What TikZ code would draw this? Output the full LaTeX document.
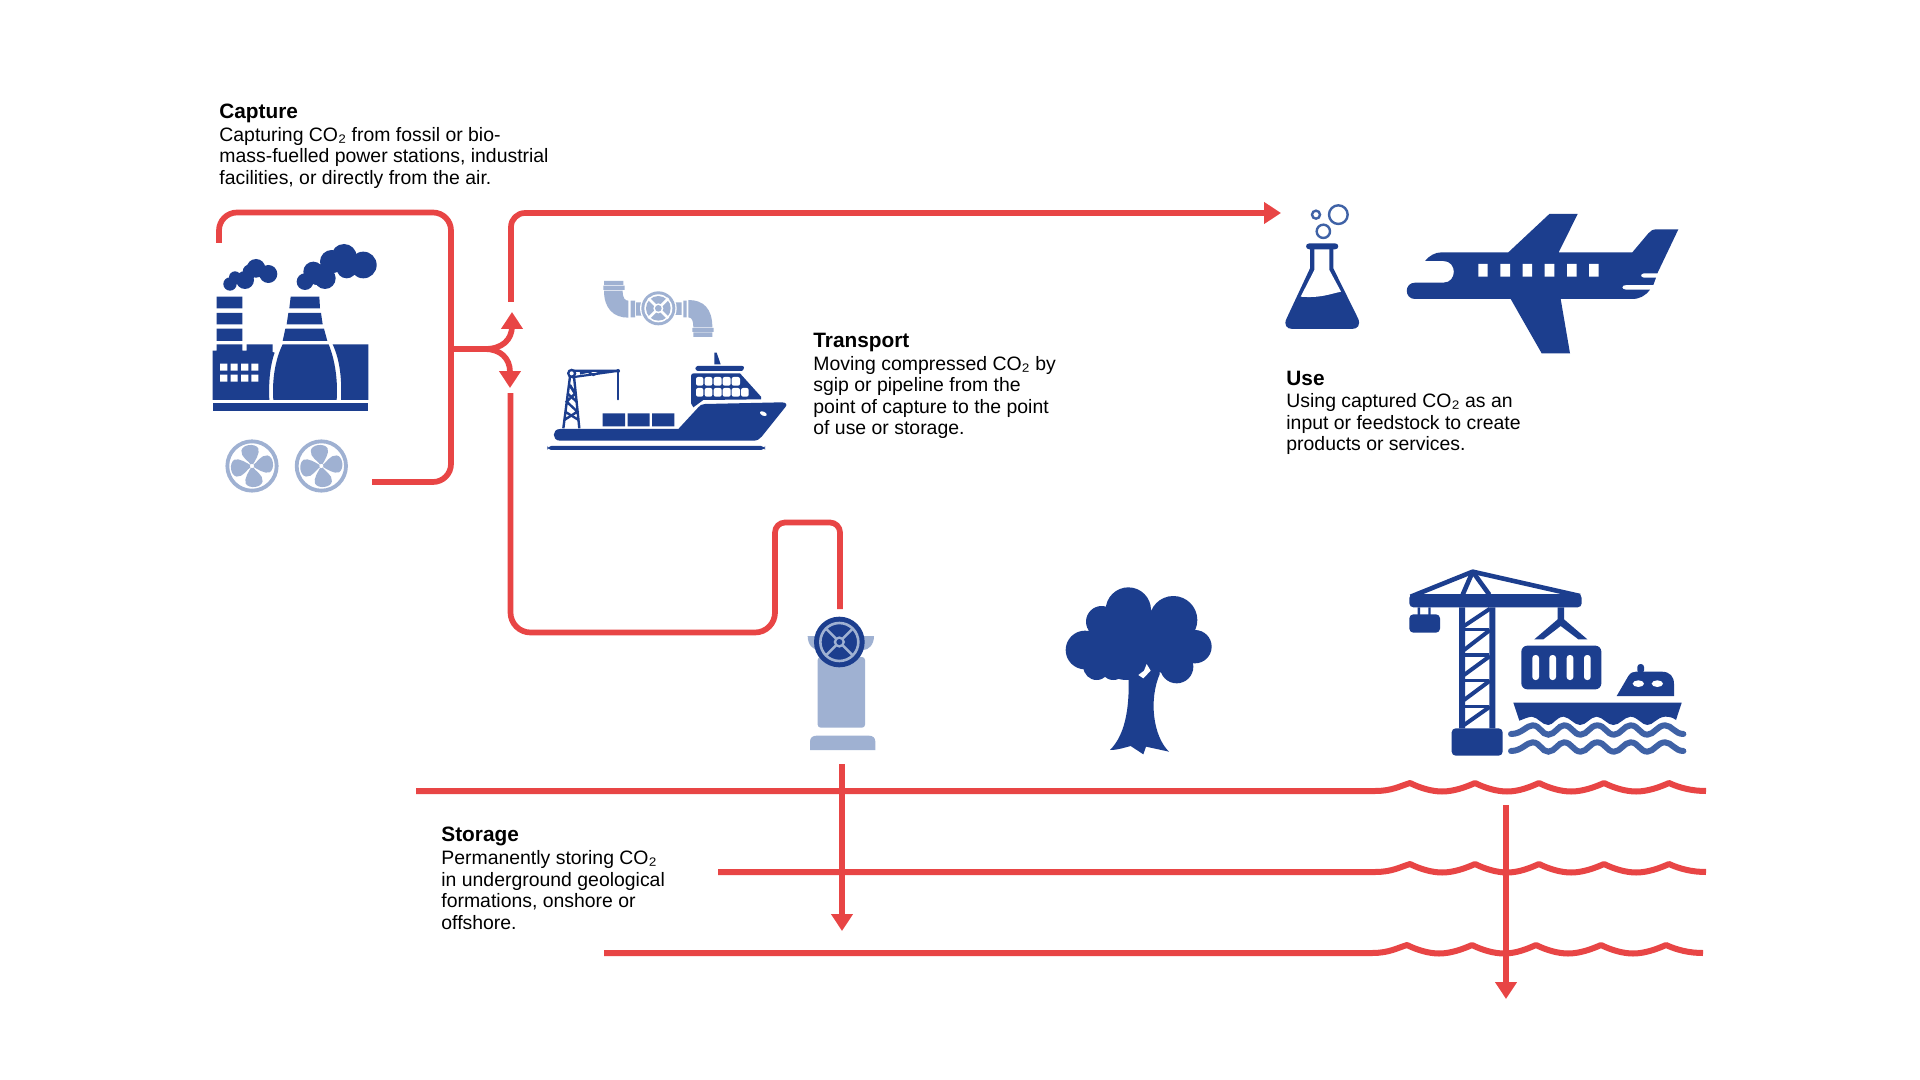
\documentclass[tikz,border=0pt]{standalone}
\usepackage{fontspec}
\setmainfont{Liberation Sans}
\usetikzlibrary{arrows.meta}
\definecolor{cred}{HTML}{E84545}
\definecolor{cdark}{HTML}{1C3E8E}
\definecolor{clight}{HTML}{9FB1D2}
\definecolor{cmid}{HTML}{3F62A6}
\newcommand{\cotwo}{CO{\fontsize{10.5}{10.75}\selectfont ₂}}
\newcommand{\wavy}[3]{\draw[flowline,line width=3pt] (#1) -- (1375+#3,#2) .. controls (1392+#3,#2) and (1400+#3,#2-5) .. (1410+#3,#2-8)
 .. controls (1420+#3,#2-3) and (1432+#3,#2+.5) .. (1442+#3,#2+.5) .. controls (1454+#3,#2+.5) and (1466+#3,#2-4) .. (1475+#3,#2-8)
 .. controls (1485+#3,#2-3) and (1497+#3,#2+.5) .. (1507+#3,#2+.5) .. controls (1519+#3,#2+.5) and (1530+#3,#2-4) .. (1539+#3,#2-8)
 .. controls (1549+#3,#2-3) and (1561+#3,#2+.5) .. (1571+#3,#2+.5) .. controls (1583+#3,#2+.5) and (1595+#3,#2-4) .. (1604+#3,#2-8)
 .. controls (1614+#3,#2-3) and (1626+#3,#2+.5) .. (1636+#3,#2+.5) .. controls (1648+#3,#2+.5) and (1660+#3,#2-4) .. (1669+#3,#2-8)
 .. controls (1680+#3,#2-3) and (1692+#3,#2) .. (1706+#3,#2);}
\newcommand{\fanblades}{\foreach \a in {8,98,188,278}{\fill[clight,rotate=\a] (0,0) .. controls (-8,-18) and (-30,-30) .. (-25,-50) .. controls (-20,-68) and (18,-68) .. (26,-50) .. controls (30,-35) and (12,-15) .. (0,0) -- cycle;}}
\tikzset{
 flowline/.style={draw=cred,line width=2.85pt,line join=round},
 flowarrow/.style={flowline,-{Triangle[width=10.5pt,length=8.5pt]}},
 desc/.style={anchor=north west,inner sep=0pt,align=left,font=\fontsize{9.71}{10.75}\selectfont,text=black},
 zm/.style={shift={#1},scale=1/3},
 dk/.style={fill=cdark,draw=none},
 lt/.style={fill=clight,draw=none},
 wh/.style={fill=white,draw=none},
}
\begin{document}
\begin{tikzpicture}[x=0.5pt,y=-0.5pt]
\useasboundingbox (0,0) rectangle (1920,1080);
\fill[white] (0,0) rectangle (1920,1080);
% connector coordinates
\coordinate (capS) at (219,243);
\coordinate (capC) at (451,349);
\coordinate (capE) at (372,482);
\coordinate (upS) at (511,302);
\coordinate (useT) at (1281,213);
\coordinate (loS) at (510.5,393);
\coordinate (valT) at (840,609);
\coordinate (sT) at (842,764);
\coordinate (sH) at (842,931);
\coordinate (mT) at (1506,805);
\coordinate (mH) at (1506,999);
\coordinate (upT) at (512,312);
\coordinate (dnT) at (510,388);
\coordinate (g1) at (416,791);
\coordinate (g2) at (718,872);
\coordinate (g3) at (604,953);

\draw[flowline,rounded corners=9pt] (capS) |- (451,212.5) -- (451,482) -- (capE);
\draw[flowline] (capC) -- (487,349);
\draw[flowarrow] (485,349) .. controls (502,349) and (512,340) .. (512,326) -- (upT);
\draw[flowarrow] (485,349) .. controls (500,349) and (510,358) .. (510,372) -- (dnT);
\draw[flowarrow,rounded corners=7pt] (upS) |- (useT);
\draw[flowline,rounded corners=10pt] (loS) |- (775,632.5) -- (775,570);
\draw[flowline,rounded corners=5pt] (775,570) -- (775,522.5) -- (840,522.5) -- (valT);
\draw[flowarrow] (sT) -- (sH);
\wavy{g1}{791}{0}
\wavy{g2}{872}{0}
\wavy{g3}{953}{-3}
\draw[flowarrow] (mT) -- (mH);

% factory
\begin{scope}[zm={(200,200)}]
\fill[dk] (90,252) circle (20) (105,232) circle (18) (135,240) circle (27) (168,205) circle (28) (205,222) circle (27) (150,215) circle (22);
\fill[dk] (315,245) circle (25) (340,215) circle (30) (375,235) circle (32) (395,185) circle (35) (432,170) circle (38) (490,195) circle (40) (440,205) circle (30) (350,235) circle (20);
\fill[dk] (50,290) rectangle (127,325) (50,339) rectangle (127,373) (50,386) rectangle (127,423);
\fill[dk] (272,290) -- (358,290) -- (360,325) -- (268,325) -- cycle (265,339) -- (363,339) -- (368,373) -- (260,373) -- cycle (256,386) -- (372,386) -- (382,423) -- (248,423) -- cycle;
\fill[dk] (38,600) -- (38,452) -- (50,452) -- (50,433) -- (127,433) -- (127,452) -- (140,452) -- (140,433) -- (218,433) -- (218,456) -- (224,458) .. controls (212,490) and (205,540) .. (208,600) -- cycle;
\fill[dk] (220,600) .. controls (216,540) and (225,480) .. (248,433) -- (386,433) .. controls (405,480) and (414,540) .. (410,600) -- cycle;
\fill[dk] (398,433) -- (505,433) -- (505,600) -- (423,600) .. controls (426,540) and (420,480) .. (398,433) -- cycle;
\fill[dk] (38,610) rectangle (505,632);
\fill[wh] (60,491) rectangle (82,512) (92,491) rectangle (113,512) (123,491) rectangle (145,512) (154,491) rectangle (175,512) (60,524) rectangle (82,545) (92,524) rectangle (113,545) (123,524) rectangle (145,545) (154,524) rectangle (175,545);
\foreach \c in {156,364}{
 \begin{scope}[shift={(\c,798)}]
 \draw[clight,line width=1.9pt] (0,0) circle (74);
 \fanblades
 \fill[wh] (0,0) circle (6);
 \end{scope}}
\end{scope}

% pipe and ship
\begin{scope}[zm={(530,270)}]
\fill[lt] (222,33) rectangle (280,45) (220,47) rectangle (284,60);
\fill[lt] (222,62) .. controls (222,115) and (250,143) .. (295,143) -- (295,92) .. controls (285,92) and (278,85) .. (278,62) -- cycle;
\fill[lt] (302,92) rectangle (315,142) (318,97) rectangle (340,137);
\fill[lt] (432,97) rectangle (455,135) (460,92) rectangle (470,142);
\fill[lt] (475,90) .. controls (520,90) and (547,115) .. (547,172) -- (490,172) .. controls (490,155) and (487,142) .. (475,142) -- cycle;
\fill[lt] (487,174) rectangle (551,186) (490,187) rectangle (547,201);
\begin{scope}[shift={(385,115)}]
\fill[wh] (0,0) circle (55);
\fill[lt] (0,0) circle (51);
\fill[wh] (0,0) circle (42);
\fill[lt] (0,0) circle (37);
\draw[white,line width=1.3pt] (-30,-30) -- (30,30) (-30,30) -- (30,-30);
\fill[wh] (0,0) circle (15);
\fill[lt] (0,0) circle (10);
\end{scope}
\fill[dk,rounded corners=2pt] (52,528) rectangle (705,540);
\fill[dk] (90,477) -- (445,477) -- (505,412) .. controls (510,406) and (515,402) .. (525,402) -- (755,397) .. controls (768,397) and (772,403) .. (767,410) -- (695,500) .. controls (688,508) and (682,512) .. (670,512) -- (90,512) .. controls (65,512) and (65,477) .. (90,477) -- cycle;
\fill[wh,rotate around={-25:(700,431)}] (700,431) ellipse (11 and 6);
\fill[dk] (218,430) rectangle (285,469) (293,430) rectangle (359,469) (366,430) rectangle (433,469);
\fill[dk] (483,318) .. controls (483,312) and (487,310) .. (492,310) -- (630,310) -- (693,380) -- (693,388) -- (520,390) -- (490,412) -- (483,400) -- cycle;
\fill[wh,rounded corners=1pt] (498,321) rectangle (520,347) (524,321) rectangle (547,347) (551,321) rectangle (575,347) (578,321) rectangle (602,347) (605,321) rectangle (630,347)
 (498,354) rectangle (520,380) (524,354) rectangle (547,380) (551,354) rectangle (575,380) (578,354) rectangle (602,380) (605,354) rectangle (630,380) (633,354) rectangle (656,380);
\fill[dk] (503,288) -- (636,288) .. controls (644,288) and (644,296) .. (636,303) -- (503,303) .. controls (494,300) and (494,290) .. (503,288) -- cycle;
\fill[dk] (553,248) -- (560,248) -- (572,283) -- (553,283) -- cycle;
\draw[cdark,line width=1.2pt] (100,475) -- (120,320) (148,475) -- (132,320) (103,450) -- (142,425) -- (110,395) -- (136,370) -- (118,345);
\draw[cdark,line width=1.2pt] (105,425) -- (146,450) (112,370) -- (140,395) (120,345) -- (134,370);
\draw[cdark,line width=1.1pt] (125,302) -- (268,302) (125,322) -- (268,302) (150,310) -- (175,305) -- (190,315) -- (215,305);
\draw[cdark,line width=0.7pt] (264,305) -- (264,388);
\fill[dk] (264,303) circle (6) (264,388) circle (3);
\fill[dk] (125,310) circle (14);
\fill[wh] (125,310) circle (6);
\end{scope}

% flask and plane
\begin{scope}[zm={(1270,190)}]
\draw[cmid,line width=1.2pt] (138,74) circle (12) (205,74) circle (28) (160,124) circle (20);
\fill[dk] (118,160) -- (195,160) .. controls (208,160) and (208,178) .. (195,178) -- (118,178) .. controls (105,178) and (105,160) .. (118,160) -- cycle;
\fill[dk] (120,170) -- (120,235) -- (50,385) .. controls (40,405) and (50,417) .. (68,417) -- (245,417) .. controls (263,417) and (273,405) .. (264,385) -- (190,235) -- (190,170) -- cycle;
\fill[wh] (133,178) -- (178,178) -- (178,240) -- (213,305) .. controls (180,312) and (150,325) .. (92,320) -- (133,240) -- cycle;
\fill[dk] (465,213) .. controls (478,197) and (495,187) .. (515,187) -- (715,187) -- (838,72) -- (923,72) -- (866,187) -- (1087,187) -- (1135,130) .. controls (1142,122) and (1148,118) .. (1160,118) -- (1225,118) -- (1162,250) -- (1122,250) .. controls (1110,250) and (1110,263) .. (1122,263) -- (1158,263) -- (1150,285) -- (1068,285) .. controls (1053,285) and (1053,299) .. (1068,299) -- (1140,299) .. controls (1125,318) and (1110,327) .. (1085,327) -- (872,327) -- (900,490) -- (815,490) -- (722,327) -- (435,327) .. controls (402,327) and (402,278) .. (435,278) -- (520,278) .. controls (562,278) and (562,213) .. (520,213) -- cycle;
\fill[wh] (625,222) rectangle (653,260) (691,222) rectangle (720,260) (758,222) rectangle (786,260) (824,222) rectangle (853,260) (891,222) rectangle (920,260) (957,222) rectangle (986,260);
\end{scope}

% wellhead and tree
\begin{scope}[zm={(780,510)}]
\fill[lt,rounded corners=1.5pt] (113,441) rectangle (255,653);
\fill[lt] (90,720) -- (90,695) .. controls (90,683) and (98,677) .. (110,677) -- (266,677) .. controls (278,677) and (286,683) .. (286,695) -- (286,720) -- cycle;
\fill[lt] (83,378) -- (282,378) .. controls (282,405) and (265,420) .. (250,420) -- (115,420) .. controls (100,420) and (83,405) .. (83,378) -- cycle;
\fill[dk] (178,396) circle (76);
\draw[clight,line width=1.3pt] (178,396) circle (57);
\draw[clight,line width=1.2pt] (138,356) -- (218,436) (138,436) -- (218,356);
\fill[lt] (178,396) circle (17);
\fill[dk] (178,396) circle (9);
\fill[dk] (1045,300) circle (68) (1180,330) circle (72) (965,335) circle (47) (915,420) circle (58) (1245,410) circle (50) (950,470) circle (40) (1190,470) circle (50) (1040,420) circle (90) (1120,400) circle (90) (1000,470) circle (40) (1100,460) circle (40);
\fill[dk] (1045,480) .. controls (1050,580) and (1040,670) .. (990,720) .. controls (1015,720) and (1035,712) .. (1052,708) -- (1090,733) -- (1098,710) -- (1167,725) .. controls (1120,680) and (1105,570) .. (1140,490) -- cycle;
\fill[wh] (1075,495) -- (1090,505) -- (1112,482) -- (1100,462) -- (1092,482) -- cycle;
\end{scope}

% port crane
\begin{scope}[zm={(1390,560)}]
\fill[dk,rounded corners=2pt] (58,102) rectangle (575,142);
\draw[cdark,line width=2.3pt,line join=round] (62,110) -- (248,35) -- (570,108);
\draw[cdark,line width=2.3pt] (248,35) -- (218,104) (248,35) -- (298,104);
\fill[dk] (207,142) rectangle (225,505) (298,142) rectangle (316,505);
\draw[cdark,line width=2pt] (222,198) -- (300,146) (222,270) -- (300,210) (222,345) -- (300,288) (222,420) -- (300,362) (222,495) -- (300,440);
\draw[cdark,line width=1.8pt] (225,208) -- (298,208) (225,285) -- (298,285) (225,362) -- (298,362) (225,440) -- (298,440);
\fill[dk,rounded corners=2pt] (185,505) rectangle (338,587);
\fill[dk,rounded corners=2pt] (58,163) rectangle (150,218);
\fill[dk] (83,142) rectangle (90,165) (115,142) rectangle (122,165);
\fill[dk] (503,142) -- (522,142) -- (522,178) -- (592,238) -- (565,238) -- (512,198) -- (460,238) -- (433,238) -- (503,178) -- cycle;
\fill[dk,rounded corners=3pt] (394,257) rectangle (634,388);
\fill[wh,rounded corners=1.5pt] (427,285) rectangle (447,360) (478,285) rectangle (498,360) (530,285) rectangle (550,360) (582,285) rectangle (602,360);
\fill[dk,rounded corners=1.5pt] (742,340) -- (742,312) -- (762,312) -- (762,340) -- cycle;
\fill[dk] (680,408) -- (715,348) .. controls (722,338) and (728,335) .. (738,335) -- (815,335) .. controls (840,335) and (852,350) .. (852,372) -- (852,408) -- cycle;
\fill[wh] (745,371) ellipse (17 and 10) (802,371) ellipse (17 and 10);
\fill[dk] (370,428) -- (875,428) -- (858,480) .. controls (848,472) and (838,470) .. (825,470) .. controls (800,472) and (790,495) .. (772,495) .. controls (755,495) and (745,472) .. (722,470) .. controls (700,472) and (690,495) .. (670,495) .. controls (652,495) and (640,472) .. (620,470) .. controls (598,472) and (590,495) .. (570,495) .. controls (552,495) and (540,472) .. (520,470) .. controls (498,472) and (490,495) .. (475,495) .. controls (455,495) and (445,472) .. (425,470) .. controls (410,472) and (400,478) .. (388,482) -- cycle;
\foreach \y in {0,51}{
\draw[cmid,line width=3pt,line cap=round] (363,522+\y) .. controls (395,522+\y) and (410,496+\y) .. (428,496+\y) .. controls (450,496+\y) and (455,524+\y) .. (475,524+\y) .. controls (495,524+\y) and (505,496+\y) .. (522,496+\y) .. controls (545,496+\y) and (550,524+\y) .. (572,524+\y) .. controls (592,524+\y) and (600,496+\y) .. (622,496+\y) .. controls (645,496+\y) and (650,524+\y) .. (672,524+\y) .. controls (692,524+\y) and (702,496+\y) .. (722,496+\y) .. controls (745,496+\y) and (750,524+\y) .. (772,524+\y) .. controls (792,524+\y) and (802,496+\y) .. (825,496+\y) .. controls (845,496+\y) and (855,522+\y) .. (880,522+\y);
}
\end{scope}

% text
\node[desc] (capture) at (219,103.5) {\fontsize{10.4}{12}\selectfont\textbf{Capture}\\[0.6pt]Capturing \cotwo{} from fossil or bio-\\mass-fuelled power stations, industrial\\facilities, or directly from the air.};
\node[desc] (transport) at (813,333) {\fontsize{10.4}{12}\selectfont\textbf{Transport}\\[0.6pt]Moving compressed \cotwo{} by\\sgip or pipeline from the\\point of capture to the point\\of use or storage.};
\node[desc] (use) at (1286,370.5) {\fontsize{10.4}{12}\selectfont\textbf{Use}\\[0.6pt]Using captured \cotwo{} as an\\input or feedstock to create\\products or services.};
\node[desc] (storage) at (441,827) {\fontsize{10.4}{12}\selectfont\textbf{Storage}\\[0.6pt]Permanently storing \cotwo{}\\in underground geological\\formations, onshore or\\offshore.};
\end{tikzpicture}
\end{document}
